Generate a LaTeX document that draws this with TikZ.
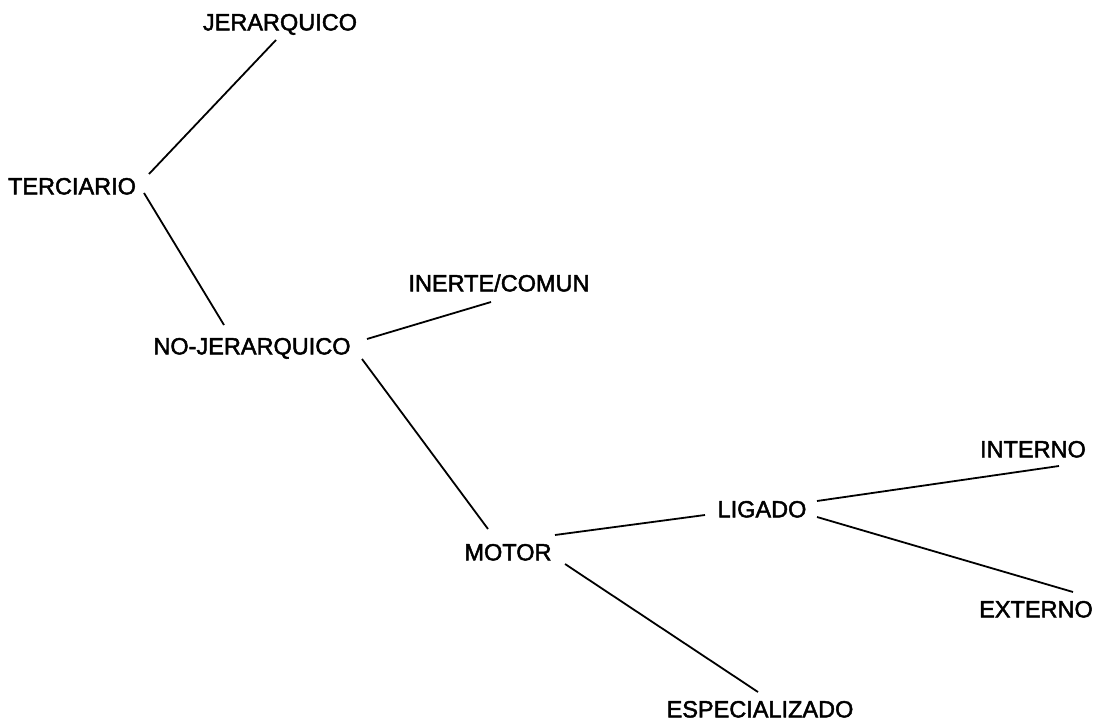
\documentclass[tikz,border=0pt]{standalone}
\usepackage{fontspec}
\setmainfont{Liberation Sans}
\newfontfamily\lblfont{Liberation Sans}[FakeBold=2]
\begin{document}
\begin{tikzpicture}[x=1pt,y=-1pt,
  lbl/.style={inner sep=0pt, font=\lblfont\fontsize{23.5}{28}\selectfont, text height=16.8pt, text depth=0pt},
  conn/.style={line width=1.8pt, black}]
\useasboundingbox (0,0) rectangle (1101,722);
\node[lbl] (jer) at (280,22) {JERARQUICO};
\node[lbl] (ter) at (72,186) {TERCIARIO};
\node[lbl] (noj) at (252,346) {NO-JERARQUICO};
\node[lbl] (ine) at (499,283) {INERTE/COMUN};
\node[lbl] (mot) at (508,552) {MOTOR};
\node[lbl] (lig) at (762,509) {LIGADO};
\node[lbl] (int) at (1033,449) {INTERNO};
\node[lbl] (ext) at (1036,609) {EXTERNO};
\node[lbl] (esp) at (760,709) {ESPECIALIZADO};
\draw[conn] ([shift={(-4,18)}]jer.center) -- ([shift={(77,-12)}]ter.center);
\draw[conn] ([shift={(72,7)}]ter.center) -- ([shift={(-28,-21)}]noj.center);
\draw[conn] ([shift={(115,-7)}]noj.center) -- ([shift={(-8,19)}]ine.center);
\draw[conn] ([shift={(110,13)}]noj.center) -- ([shift={(-20,-23)}]mot.center);
\draw[conn] ([shift={(47,-17)}]mot.center) -- ([shift={(-57,6)}]lig.center);
\draw[conn] ([shift={(55,-8)}]lig.center) -- ([shift={(26,17)}]int.center);
\draw[conn] ([shift={(55,8)}]lig.center) -- ([shift={(37,-17)}]ext.center);
\draw[conn] ([shift={(57,12)}]mot.center) -- ([shift={(-2,-17)}]esp.center);
\end{tikzpicture}
\end{document}
